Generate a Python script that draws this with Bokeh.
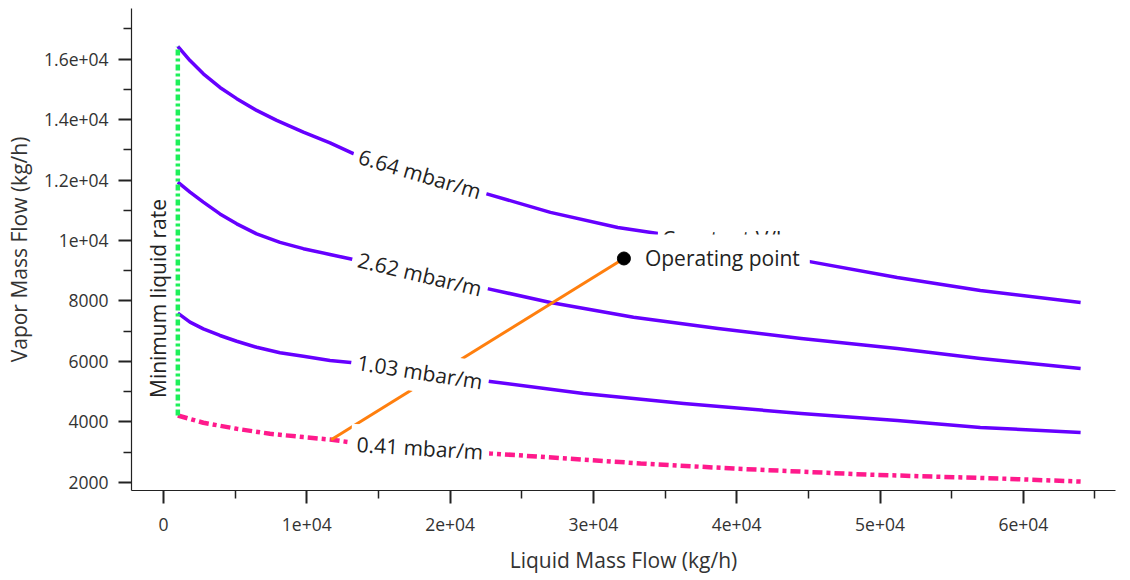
import numpy as np
from bokeh.plotting import figure
from bokeh.models import Label, FixedTicker, Range1d
from bokeh.embed import file_html
from bokeh.resources import INLINE

# ---------------- data ----------------
curve_labels = ["6.64 mbar/m", "2.62 mbar/m", "1.03 mbar/m", "0.41 mbar/m"]

L_664 = [1000, 1850, 2780, 3940, 5110, 6500, 7900, 9760, 11620, 13250,
         22500, 27000, 31700, 34500, 45000, 51200, 57000, 64000]
V_664 = [16420, 15950, 15510, 15060, 14690, 14300, 13970, 13580, 13230, 12870,
         11550, 10930, 10430, 10230, 9310, 8780, 8350, 7950]

L_262 = [1000, 1850, 2780, 3940, 5110, 6500, 8130, 9760, 11620, 13250,
         22600, 27000, 32800, 38700, 44500, 51200, 57000, 64000]
V_262 = [11930, 11600, 11270, 10880, 10550, 10220, 9940, 9730, 9540, 9370,
         8410, 7950, 7460, 7090, 6760, 6430, 6100, 5770]

L_103 = [1000, 1850, 2780, 3940, 5110, 6500, 8130, 9760, 11620, 13250,
         22800, 29300, 36300, 44500, 51200, 57000, 64000]
V_103 = [7600, 7300, 7080, 6860, 6670, 6470, 6290, 6170, 6030, 5960,
         5340, 4940, 4610, 4280, 4050, 3820, 3650]

L_041 = [1000, 2780, 5110, 7430, 9760, 11620, 13020, 22800, 33300, 39800, 49100, 58400, 64000]
V_041 = [4215, 3975, 3775, 3610, 3500, 3420, 3330, 2960, 2630, 2460, 2260, 2130, 2030]

min_liquid_L = 1000
op_L, op_V = 32130, 9405
vl_L = [11700, 32130]
vl_V = [3415, 9405]

x_ticks = [0, 10000, 20000, 30000, 40000, 50000, 60000]
x_tick_labels = ["0", "1e+04", "2e+04", "3e+04", "4e+04", "5e+04", "6e+04"]
x_minor = [5000, 15000, 25000, 35000, 45000, 55000, 65000]
y_ticks = [2000, 4000, 6000, 8000, 10000, 12000, 14000, 16000]
y_tick_labels = ["2000", "4000", "6000", "8000", "1e+04", "1.2e+04", "1.4e+04", "1.6e+04"]
y_minor = [3000, 5000, 7000, 9000, 11000, 13000, 15000, 17000]

label_L = 17900
label_angles = [-16.5, -13.5, -9.0, -3.5]
min_rate_label_V = 8083

# ---------------- figure ----------------
FONT = "Open Sans"
p = figure(width=1130, height=580,
           x_range=Range1d(-2233, 66434), y_range=Range1d(1735, 17670),
           output_backend="svg", toolbar_location=None,
           min_border_left=131, min_border_right=15, min_border_top=8, min_border_bottom=90,
           x_axis_label="Liquid Mass Flow (kg/h)", y_axis_label="Vapor Mass Flow (kg/h)")
p.xgrid.visible = False
p.ygrid.visible = False
p.outline_line_color = None

p.xaxis.ticker = FixedTicker(ticks=x_ticks, minor_ticks=x_minor)
p.yaxis.ticker = FixedTicker(ticks=y_ticks, minor_ticks=y_minor)
p.xaxis.major_label_overrides = {t: s for t, s in zip(x_ticks, x_tick_labels)}
p.yaxis.major_label_overrides = {t: s for t, s in zip(y_ticks, y_tick_labels)}

for ax in (p.xaxis[0], p.yaxis[0]):
    ax.axis_line_color = "#222222"
    ax.axis_line_width = 1.2
    ax.major_tick_out = 13
    ax.major_tick_in = 0
    ax.minor_tick_out = 8
    ax.minor_tick_in = 0
    ax.major_tick_line_width = 2
    ax.minor_tick_line_width = 1.5
    ax.major_tick_line_color = "#222222"
    ax.minor_tick_line_color = "#222222"
    ax.major_label_text_font = FONT
    ax.major_label_text_font_size = "17.5px"
    ax.major_label_text_color = "#333333"
    ax.axis_label_text_font = FONT
    ax.axis_label_text_font_size = "21px"
    ax.axis_label_text_font_style = "normal"
    ax.axis_label_text_color = "#333333"
p.xaxis.major_label_standoff = 14
p.yaxis.major_label_standoff = 10
p.xaxis.axis_label_standoff = 12
p.yaxis.axis_label_standoff = 8

PURPLE = "#6600ff"
PINK = "#ff1a8c"
GREEN = "#1ef05a"
ORANGE = "#ff7f0e"

p.line(L_664, V_664, line_color=PURPLE, line_width=3.5, line_join="round")
p.line(L_262, V_262, line_color=PURPLE, line_width=3.5, line_join="round")
p.line(L_103, V_103, line_color=PURPLE, line_width=3.5, line_join="round")
p.line(L_041, V_041, line_color=PINK, line_width=4.5, line_dash="10 4 4 4")
p.line([min_liquid_L, min_liquid_L], [V_041[0], V_664[0]], line_color=GREEN, line_width=4.5,
       line_dash="6 3 3 3")
p.line(vl_L, vl_V, line_color=ORANGE, line_width=3)
p.scatter([op_L], [op_V], size=13, color="black")

# curve labels (white boxes hide the lines beneath)
for (Ls, Vs), txt, ang in zip([(L_664, V_664), (L_262, V_262), (L_103, V_103), (L_041, V_041)],
                              curve_labels, label_angles):
    y = float(np.interp(label_L, Ls, Vs))
    p.add_layout(Label(x=label_L, y=y, text=txt, angle=ang, angle_units="deg",
                       text_align="center", text_baseline="middle",
                       background_fill_color="white", padding=6,
                       text_font=FONT, text_font_size="21px", text_color="#222222"))

p.add_layout(Label(x=min_liquid_L, y=min_rate_label_V, x_offset=-6, text="Minimum liquid rate",
                   angle=90, angle_units="deg", text_align="center", text_baseline="bottom",
                   text_font=FONT, text_font_size="21px", text_color="#222222"))

p.add_layout(Label(x=op_L, y=op_V, x_offset=34, y_offset=19, text="Constant V/L",
                   text_align="left", text_baseline="alphabetic",
                   background_fill_color="white", padding=4,
                   text_font=FONT, text_font_size="21px", text_color="#222222"))
p.add_layout(Label(x=op_L, y=op_V, x_offset=11, text="Operating point",
                   text_align="left", text_baseline="middle",
                   background_fill_color="white", padding=10,
                   text_font=FONT, text_font_size="21px", text_color="#222222"))

open("out.html", "w").write(file_html(p, INLINE))
